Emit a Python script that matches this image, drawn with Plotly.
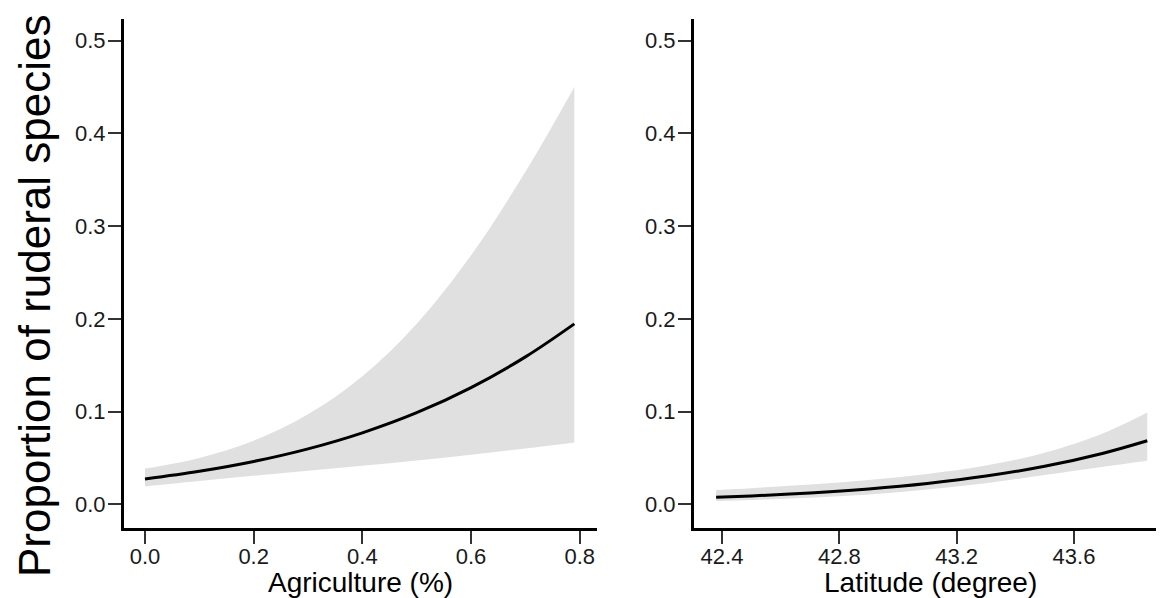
import plotly.graph_objects as go

# ---- data ----
agri_x = [0.0, 0.1, 0.2, 0.3, 0.4, 0.5, 0.6, 0.7, 0.79]
agri_fit = [0.0273, 0.0356, 0.0462, 0.0598, 0.0771, 0.0988, 0.1259, 0.1590, 0.1946]
agri_upper = [0.0385, 0.0500, 0.0686, 0.0971, 0.1382, 0.1948, 0.2686, 0.3587, 0.4502]
agri_lower = [0.0193, 0.0252, 0.0308, 0.0362, 0.0416, 0.0473, 0.0534, 0.0601, 0.0666]

lat_x = [42.38, 42.5, 42.7, 42.9, 43.1, 43.3, 43.5, 43.7, 43.85]
lat_fit = [0.0075, 0.0090, 0.0122, 0.0166, 0.0225, 0.0304, 0.0410, 0.0551, 0.0685]
lat_upper = [0.0155, 0.0174, 0.0212, 0.0261, 0.0327, 0.0418, 0.0556, 0.0766, 0.0989]
lat_lower = [0.0036, 0.0047, 0.0071, 0.0106, 0.0160, 0.0228, 0.0315, 0.0405, 0.0470]

agri_ticks = [0.0, 0.2, 0.4, 0.6, 0.8]
lat_ticks = [42.4, 42.8, 43.2, 43.6]
y_ticks = [0.0, 0.1, 0.2, 0.3, 0.4, 0.5]

y_title = "Proportion of ruderal species"
x1_title = "Agriculture (%)"
x2_title = "Latitude (degree)"

# ---- styling ----
PAGE_W, PAGE_H = 1164, 598
OFF = 8  # default page body margin
W, H = PAGE_W - OFF, PAGE_H - OFF
FONT = "Liberation Sans, Arial, sans-serif"
BAND = "#E0E0E0"
TICKC = "#333333"

fig = go.Figure()

def add_panel(x, lo, up, fit, xa, ya):
    fig.add_trace(go.Scatter(x=x, y=lo, mode="lines", line=dict(width=0, shape="spline"),
                             xaxis=xa, yaxis=ya, showlegend=False, hoverinfo="skip"))
    fig.add_trace(go.Scatter(x=x, y=up, mode="lines", line=dict(width=0, shape="spline"),
                             fill="tonexty", fillcolor=BAND,
                             xaxis=xa, yaxis=ya, showlegend=False, hoverinfo="skip"))
    fig.add_trace(go.Scatter(x=x, y=fit, mode="lines", line=dict(color="black", width=3, shape="spline"),
                             xaxis=xa, yaxis=ya, showlegend=False))

add_panel(agri_x, agri_lower, agri_upper, agri_fit, "x", "y")
add_panel(lat_x, lat_lower, lat_upper, lat_fit, "x2", "y2")

def px_x(p):
    return (p - OFF) / W

def px_y(p):
    return 1 - (p - OFF) / H

axis_common = dict(showline=True, linecolor="black", linewidth=3, ticks="outside",
                   ticklen=13, tickwidth=2, tickcolor=TICKC, showgrid=False, zeroline=False,
                   automargin=False, tickfont=dict(family=FONT, size=22, color="#1a1a1a"),
                   mirror=False)
xaxis_common = dict(axis_common, ticklabelstandoff=-6)
yaxis_common = dict(axis_common, ticklabelstandoff=-2)

ydom = [px_y(528), px_y(19)]
yrange = [-0.0256, 0.5235]

fig.update_layout(
    width=W, height=H,
    margin=dict(l=0, r=0, t=0, b=0),
    plot_bgcolor="white", paper_bgcolor="white",
    font=dict(family=FONT),
    xaxis=dict(domain=[px_x(124), px_x(597)], range=[-0.0386, 0.8317], anchor="y",
               tickvals=agri_ticks, ticktext=[f"{v:.1f}" for v in agri_ticks], **xaxis_common),
    yaxis=dict(domain=ydom, range=yrange, anchor="x",
               tickvals=y_ticks, ticktext=[f"{v:.1f}" for v in y_ticks], **yaxis_common),
    xaxis2=dict(domain=[px_x(694), 1.0], range=[42.3045, 43.907], anchor="y2",
                tickvals=lat_ticks, ticktext=[f"{v:.1f}" for v in lat_ticks], **xaxis_common),
    yaxis2=dict(domain=ydom, range=yrange, anchor="x2",
                tickvals=y_ticks, ticktext=[f"{v:.1f}" for v in y_ticks], **yaxis_common),
)

fig.add_annotation(text=x1_title, xref="paper", yref="paper", x=px_x(360.5), y=px_y(582),
                   xanchor="center", yanchor="middle", showarrow=False,
                   font=dict(family=FONT, size=28, color="black"))
fig.add_annotation(text=x2_title, xref="paper", yref="paper", x=px_x(930), y=px_y(582),
                   xanchor="center", yanchor="middle", showarrow=False,
                   font=dict(family=FONT, size=28, color="black"))
fig.add_annotation(text=y_title, xref="paper", yref="paper", x=px_x(34), y=px_y(296),
                   xanchor="center", yanchor="middle", showarrow=False, textangle=-90,
                   font=dict(family=FONT, size=44, color="black"))

fig.write_html("out.html")
